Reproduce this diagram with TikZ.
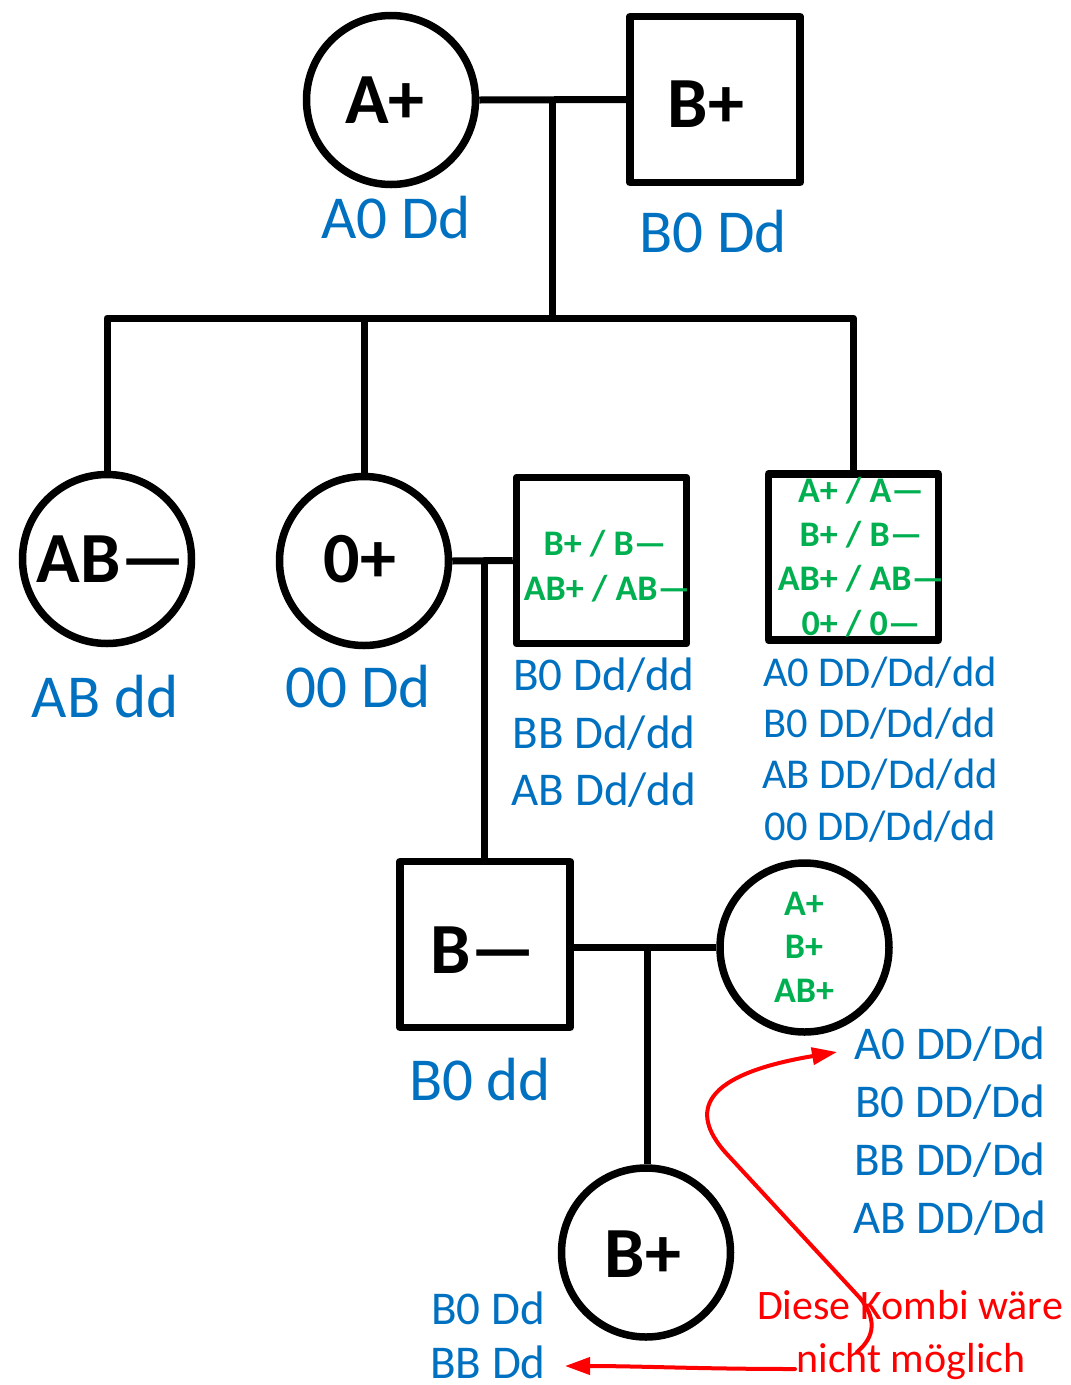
\documentclass[tikz,border=0pt]{standalone}
\usepackage{fontspec}
\setmainfont{Carlito}
\usetikzlibrary{arrows.meta}
\definecolor{gblue}{RGB}{0,112,192}
\definecolor{ggreen}{RGB}{0,176,80}
\definecolor{gred}{RGB}{255,0,0}
\begin{document}
\begin{tikzpicture}[x=1pt,y=-1pt,
  line join=round,
  person/.style={draw=black, line width=7.5pt, inner sep=0pt},
  female/.style={person, circle, minimum size=169pt},
  male/.style={person, rectangle, minimum width=170pt, minimum height=166pt},
  link/.style={draw=black, line width=7pt},
  pheno/.style={inner sep=0pt, anchor=base, font=\bfseries\fontsize{72}{72}\selectfont},
  genbig/.style={inner sep=0pt, anchor=base, text=gblue, font=\fontsize{61}{61}\selectfont},
  gensm/.style={inner sep=0pt, anchor=base, text=gblue, font=\fontsize{47}{47}\selectfont},
  genxs/.style={inner sep=0pt, anchor=base, text=gblue, font=\fontsize{42.5}{42.5}\selectfont},
  opt/.style={inner sep=0pt, anchor=base, text=ggreen, font=\bfseries\fontsize{36}{36}\selectfont},
  note/.style={inner sep=0pt, anchor=base, text=gred, font=\fontsize{42}{42}\selectfont},
  redline/.style={draw=gred, line width=4pt, line cap=round}
]
\useasboundingbox (0,0) rectangle (1071,1385);

% persons
\node[female] (mA) at (391,100) {};
\node[male] (fB) at (715,99.5) {};
\node[female] (c1) at (107,559) {};
\node[female] (c2) at (364,561) {};
\node[male] (c3) at (601.5,560.5) {};
\node[male] (c4) at (853.5,557) {};
\node[male] (d1) at (485,944.5) {};
\node[female] (w) at (804.5,947.5) {};
\node[female] (ch) at (646,1252.5) {};

% connectors
\coordinate (m1) at (552,100);
\coordinate (sib) at (552,318);
\coordinate (m2) at (484,561);
\coordinate (m3) at (647,947);
\draw[link] (mA.east) -- (fB.west);
\draw[link] (m1) -- (sib);
\draw[link] (c1.north) -- (c1.north |- sib) -- (c4.north |- sib) -- (c4.north);
\draw[link] (c2.north) -- (c2.north |- sib);
\draw[link] (c2.east) -- (c3.west);
\draw[link] (m2) -- (m2 |- d1.north);
\draw[link] (d1.east |- w.west) -- (w.west);
\draw[link] (m3) -- (m3 |- ch.north);

% phenotypes
\node[pheno] (tA) at (385,123) {A+};
\node[pheno] (tB) at (706,127) {B+};
\node[pheno] (t1) at (111,582) {AB—};
\node[pheno] (t2) at (360,582) {0+};
\node[pheno] (td) at (483,973) {B—};
\node[pheno] (tch) at (643,1277) {B+};

% genotypes
\node[genbig] (gA) at (396,238) {A0 Dd};
\node[genbig] (gB) at (713,252) {B0 Dd};
\node[genbig] (g1) at (105,717) {AB dd};
\node[genbig] (g2) at (358,707) {00 Dd};
\node[genbig] (gd) at (480,1100) {B0 dd};

% green options
\node[opt] (o31) at (605,555) {B+ / B—};
\node[opt] (o32) at (607,600) {AB+ / AB—};
\node[opt] (o41) at (861,502) {A+ / A—};
\node[opt] (o42) at (861,546) {B+ / B—};
\node[opt] (o43) at (861,590) {AB+ / AB—};
\node[opt] (o44) at (861,635) {0+ / 0—};
\node[opt] (ow1) at (804,915) {A+};
\node[opt] (ow2) at (804,958) {B+};
\node[opt] (ow3) at (804,1002) {AB+};

% blue genotype lists
\node[gensm] (l31) at (604,690) {B0 Dd/dd};
\node[gensm] (l32) at (604,748) {BB Dd/dd};
\node[gensm] (l33) at (604,805) {AB Dd/dd};
\node[genxs] (l41) at (880,686) {A0 DD/Dd/dd};
\node[genxs] (l42) at (880,737) {B0 DD/Dd/dd};
\node[genxs] (l43) at (880,788) {AB DD/Dd/dd};
\node[genxs] (l44) at (880,840) {00 DD/Dd/dd};
\node[gensm] (lw1) at (950,1059) {A0 DD/Dd};
\node[gensm] (lw2) at (950,1117) {B0 DD/Dd};
\node[gensm] (lw3) at (950,1175) {BB DD/Dd};
\node[gensm] (lw4) at (950,1233) {AB DD/Dd};
\node[gensm] (lc1) at (488,1324) {B0 Dd};
\node[gensm, text depth=0pt] (lc2) at (488,1378) {BB Dd};

% red note and arrows
\coordinate (ra) at (837,1052);
\coordinate (rb) at (565,1366);
\draw[redline, -{Triangle[length=25pt,width=17pt]}]
  (857,1352) .. controls (876,1336) and (876,1318) .. (860,1298)
  -- (725,1152) .. controls (690,1112) and (700,1075) .. (ra);
\draw[redline, -{Triangle[length=25pt,width=17pt]}]
  (795,1369) .. controls (700,1369) and (640,1366) .. (rb);
\node[note] (n1) at (910,1319) {Diese Kombi wäre};
\node[note] (n2) at (911,1372) {nicht möglich};
\end{tikzpicture}
\end{document}
